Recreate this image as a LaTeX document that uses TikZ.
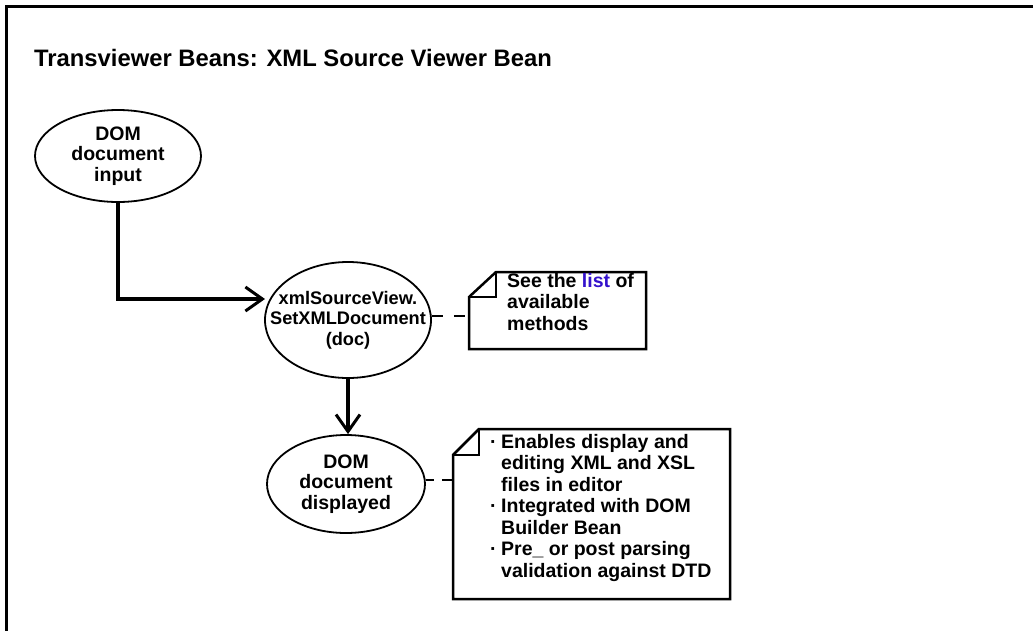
\documentclass[tikz,border=0pt]{standalone}
\usepackage{fontspec}
\setmainfont{Liberation Sans}
\usetikzlibrary{arrows.meta,shapes.geometric}
\definecolor{linkblue}{RGB}{51,17,204}
\begin{document}
\begin{tikzpicture}[x=1pt,y=-1pt,
  bub/.style={ellipse, draw, line width=1.8pt, inner sep=0pt},
  bubtext/.style={inner sep=0pt, align=center,
    font=\bfseries\fontsize{19.5}{20.5}\selectfont},
  conn/.style={line width=3.5pt, -{Straight Barb[length=17pt,width=24pt,line width=3pt]}},
  dsh/.style={line width=2.5pt, dash pattern=on 11pt off 11pt},
  notebox/.style={draw, line width=2.5pt, line join=miter},
  notetext/.style={anchor=north west, inner sep=0pt, align=left,
    font=\bfseries\fontsize{19.5}{21.5}\selectfont},
  frame/.style={line width=3pt}]
\useasboundingbox (0,0) rectangle (1033,630);
\draw[frame] (6,640) -- (6,6) -- (1040,6);
\node[anchor=base west, inner sep=0pt, font=\bfseries\fontsize{23.8}{26}\selectfont] (title) at (34,66) {Transviewer Beans: XML Source Viewer Bean};

\node[bub, minimum width=166pt, minimum height=92pt] (e1) at (118,156) {};
\node[bubtext] (t1) at (e1) {DOM\\document\\input};
\node[bub, minimum width=166pt, minimum height=116pt] (e2) at (348,320) {};
\node[bubtext, font=\bfseries\fontsize{18.2}{20.5}\selectfont] (t2) at (e2) {xmlSourceView.\\SetXMLDocument\\(doc)};
\node[bub, minimum width=158pt, minimum height=98pt] (e3) at (346,484) {};
\node[bubtext] (t3) at (e3) {DOM\\document\\displayed};

\coordinate (e2tip) at (265,299);
\draw[conn] (e1.south) |- (e2tip);
\draw[conn] (e2.south) -- (e2.south |- e3.north);

% note 1
\draw[notebox] (496,272) -- (646,272) -- (646,349) -- (469,349) -- (469,297) -- cycle;
\draw[notebox] (469,297) -- (496,297) -- (496,272);
\coordinate (n1w) at (469,316);
\node[notetext] (n1) at (507,273) {See the \textcolor{linkblue}{list} of\\available\\methods};
\draw[dsh] (e2.east |- n1w) -- (n1w);

% note 2
\draw[notebox] (479,429) -- (730,429) -- (730,599) -- (453,599) -- (453,455) -- cycle;
\draw[notebox] (453,455) -- (479,455) -- (479,429);
\coordinate (n2w) at (453,480);
\node[notetext] (n2) at (490,434) {\makebox[11pt][l]{·}Enables display and\\\hspace*{11pt}editing XML and XSL\\\hspace*{11pt}files in editor\\\makebox[11pt][l]{·}Integrated with DOM\\\hspace*{11pt}Builder Bean\\\makebox[11pt][l]{·}Pre\_ or post parsing\\\hspace*{11pt}validation against DTD};
\draw[dsh, dash pattern=on 8pt off 8pt on 10pt off 30pt] (e3.east |- n2w) -- (n2w);
\end{tikzpicture}
\end{document}
